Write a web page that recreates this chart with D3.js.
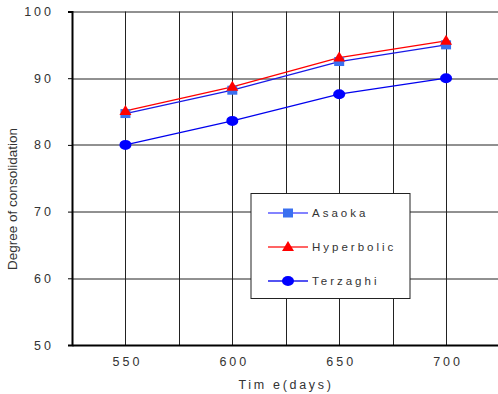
<!DOCTYPE html>
<html>
<head>
<meta charset="utf-8">
<script src="https://cdn.jsdelivr.net/npm/d3@7"></script>
<style>
  body { margin: 0; background: #fff; }
  text { font-family: "Liberation Sans", Arial, sans-serif; fill: #333; }
</style>
</head>
<body>
<svg width="498" height="394"></svg>
<script>
var days = [550, 600, 650, 700];
var asaoka = [84.7, 88.2, 92.5, 95.0];
var hyperbolic = [85.1, 88.7, 93.1, 95.6];
var terzaghi = [80.0, 83.6, 87.6, 90.0];
var xTicks = [550, 600, 650, 700];
var xGrid = [550, 575, 600, 625, 650, 675, 700];
var yTicks = [50, 60, 70, 80, 90, 100];

var svg = d3.select("svg"),
    margin = {top: 11.5, right: 0, bottom: 49, left: 72},
    width = 499.5 - margin.left,
    height = 394 - margin.top - margin.bottom,
    g = svg.append("g").attr("transform", "translate(" + margin.left + "," + margin.top + ")");

var x = d3.scaleLinear().domain([525, 725]).range([0, width]),
    y = d3.scaleLinear().domain([50, 100]).range([height, 0]);

// grid
g.selectAll(".vgrid").data(xGrid).enter().append("line")
    .attr("x1", function(d) { return Math.round(x(d)) + 0.5; })
    .attr("x2", function(d) { return Math.round(x(d)) + 0.5; })
    .attr("y1", 0).attr("y2", height)
    .attr("stroke", "#222").attr("stroke-width", 1);

g.selectAll(".hgrid").data(yTicks.slice(1)).enter().append("line")
    .attr("x1", 0).attr("x2", width)
    .attr("y1", function(d) { return Math.round(y(d)) + 0.5; })
    .attr("y2", function(d) { return Math.round(y(d)) + 0.5; })
    .attr("stroke", "#222").attr("stroke-width", 1);

// axes
var yAxis = g.append("g")
    .call(d3.axisLeft(y).tickValues(yTicks).tickSize(4).tickPadding(14).tickFormat(d3.format("d")));
var xAxis = g.append("g")
    .attr("transform", "translate(0," + height + ")")
    .call(d3.axisBottom(x).tickValues(xTicks).tickSize(0).tickPadding(12).tickFormat(d3.format("d")));
[xAxis, yAxis].forEach(function(a) {
  a.select(".domain").attr("stroke", "#000").attr("stroke-width", 2);
  a.selectAll(".tick line").attr("stroke", "#000");
  a.selectAll("text").attr("font-size", 12.5).attr("fill", "#333")
    .style("letter-spacing", "3px")
    .attr("font-family", "Liberation Sans, Arial, sans-serif");
});
xAxis.selectAll("text").attr("dx", "1.5px");

// axis titles
svg.append("text")
    .attr("transform", "translate(17," + 199 + ") rotate(-90)")
    .attr("text-anchor", "middle")
    .attr("font-size", 13.5)
    .text("Degree of consolidation");

svg.append("text")
    .attr("x", 286).attr("y", 389)
    .attr("text-anchor", "middle")
    .attr("font-size", 12.5)
    .style("letter-spacing", "2.7px")
    .text("Tim e(days)");

var line = d3.line()
    .x(function(d, i) { return x(days[i]); })
    .y(function(d) { return y(d); });

var series = [
  {name: "Asaoka", values: asaoka, stroke: "#1a1ae6", legendStroke: "#5a5aff", fill: "#3a70f0", shape: "square"},
  {name: "Hyperbolic", values: hyperbolic, stroke: "#ff0000", legendStroke: "#ff3030", fill: "#ff0000", shape: "triangle"},
  {name: "Terzaghi", values: terzaghi, stroke: "#0000ee", legendStroke: "#1a1aee", fill: "#0000ff", shape: "circle"}
];

function drawMarker(sel, s, cx, cy) {
  if (s.shape === "square") {
    sel.append("rect").attr("x", cx - 5).attr("y", cy - 4.5).attr("width", 10).attr("height", 9).attr("fill", s.fill);
  } else if (s.shape === "triangle") {
    sel.append("path").attr("d", "M" + cx + "," + (cy - 6) + "L" + (cx + 6) + "," + (cy + 4) + "L" + (cx - 6) + "," + (cy + 4) + "Z").attr("fill", s.fill);
  } else {
    sel.append("ellipse").attr("cx", cx).attr("cy", cy).attr("rx", 6).attr("ry", 5).attr("fill", s.fill);
  }
}

series.forEach(function(s) {
  g.append("path").datum(s.values)
    .attr("d", line).attr("fill", "none")
    .attr("stroke", s.stroke).attr("stroke-width", 1.3);
});
series.forEach(function(s) {
  var mg = g.append("g");
  s.values.forEach(function(v, i) { drawMarker(mg, s, x(days[i]), y(v)); });
});

// legend
var lg = svg.append("g").attr("transform", "translate(251,193.5)");
lg.append("rect").attr("width", 159).attr("height", 105)
    .attr("fill", "#fff").attr("stroke", "#222").attr("stroke-width", 1);
series.forEach(function(s, i) {
  var yy = 19.5 + i * 34;
  lg.append("line").attr("x1", 17).attr("x2", 57).attr("y1", yy).attr("y2", yy)
    .attr("stroke", s.legendStroke).attr("stroke-width", 1.3);
  drawMarker(lg, s, 37, yy);
  lg.append("text").attr("x", 61).attr("y", yy + 4)
    .attr("font-size", 11.5).style("letter-spacing", "3px")
    .text(s.name);
});
</script>
</body>
</html>
